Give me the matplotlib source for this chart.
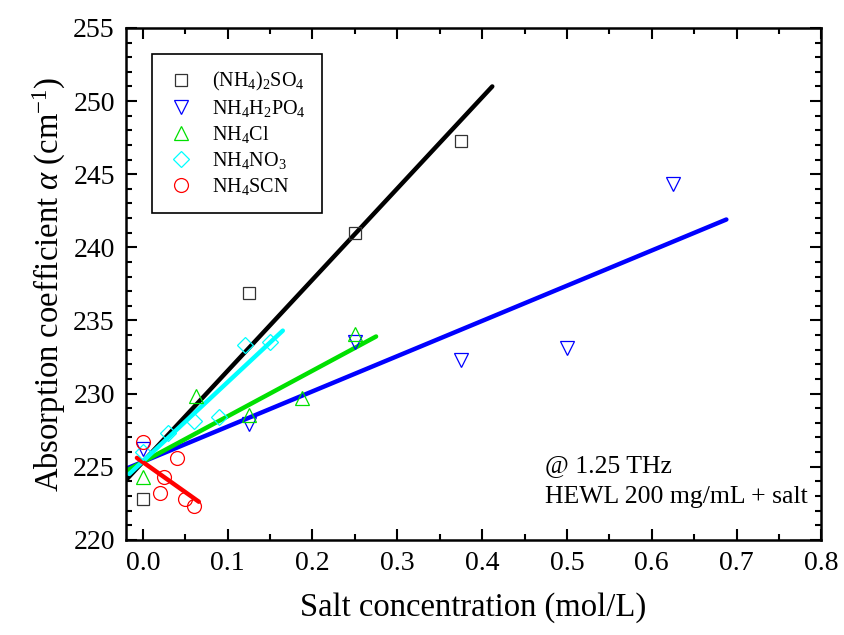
import numpy as np
import matplotlib
matplotlib.use('Agg')
import matplotlib.pyplot as plt
from matplotlib.ticker import MultipleLocator

plt.rcParams['font.family'] = ['Liberation Serif', 'DejaVu Serif']
plt.rcParams['mathtext.fontset'] = 'custom'
plt.rcParams['mathtext.rm'] = 'Liberation Serif'
plt.rcParams['mathtext.it'] = 'Liberation Serif:italic'

# datos
x_so4 = [0.0, 0.125, 0.25, 0.375]
y_so4 = [222.8, 236.9, 241.0, 247.3]
x_po4 = [0.0, 0.125, 0.25, 0.375, 0.5, 0.625]
y_po4 = [226.2, 227.9, 233.5, 232.3, 233.1, 244.3]
x_cl = [0.0, 0.0625, 0.125, 0.1875, 0.25]
y_cl = [224.3, 229.8, 228.5, 229.7, 234.1]
x_no3 = [0.0, 0.03, 0.06, 0.09, 0.12, 0.15]
y_no3 = [226.0, 227.3, 228.1, 228.4, 233.3, 233.5]
x_scn = [0.0, 0.02, 0.025, 0.04, 0.05, 0.06]
y_scn = [226.7, 223.2, 224.3, 225.6, 222.8, 222.3]

# rectas de ajuste (extremos)
fit_so4_x = [-0.018, 0.412]
fit_so4_y = [224.2, 251.0]
fit_po4_x = [-0.02, 0.688]
fit_po4_y = [224.85, 241.9]
fit_cl_x = [-0.02, 0.275]
fit_cl_y = [224.7, 233.9]
fit_no3_x = [-0.016, 0.165]
fit_no3_y = [224.5, 234.3]
fit_scn_x = [-0.007, 0.066]
fit_scn_y = [225.6, 222.6]

labels = [r'(NH$_4$)$_2$SO$_4$', r'NH$_4$H$_2$PO$_4$', r'NH$_4$Cl',
          r'NH$_4$NO$_3$', r'NH$_4$SCN']

fig = plt.figure(figsize=(8.45, 6.35), dpi=100)
ax = fig.add_axes([0.149, 0.150, 0.823, 0.806])

series = [
    (x_so4, y_so4, fit_so4_x, fit_so4_y, 's', '#333333', 'black', 8),
    (x_po4, y_po4, fit_po4_x, fit_po4_y, 'v', 'blue', 'blue', 10),
    (x_cl, y_cl, fit_cl_x, fit_cl_y, '^', '#00e000', '#00e000', 10),
    (x_no3, y_no3, fit_no3_x, fit_no3_y, 'D', 'cyan', 'cyan', 8),
    (x_scn, y_scn, fit_scn_x, fit_scn_y, 'o', 'red', 'red', 10),
]

for i, (xs, ys, fx, fy, m, mc, lc, ms) in enumerate(series):
    ax.plot(xs, ys, linestyle='none', marker=m, markersize=ms,
            markerfacecolor='none', markeredgecolor=mc, markeredgewidth=0.9,
            label=labels[i], zorder=3)

for i, (xs, ys, fx, fy, m, mc, lc, ms) in enumerate(series):
    ax.plot(fx, fy, color=lc, linewidth=3.2, solid_capstyle='round', zorder=2)

ax.set_xlim(-0.02, 0.8)
ax.set_ylim(220, 255)
ax.xaxis.set_major_locator(MultipleLocator(0.1))
ax.xaxis.set_minor_locator(MultipleLocator(0.05))
ax.yaxis.set_major_locator(MultipleLocator(5))
ax.yaxis.set_minor_locator(MultipleLocator(1))
ax.tick_params(which='both', direction='in', top=True, right=True, labelsize=20, width=1.5)
ax.tick_params(which='major', length=8, pad=8)
ax.tick_params(which='minor', length=4)
for s in ax.spines.values():
    s.set_linewidth(1.8)

ax.set_xlabel('Salt concentration (mol/L)', fontsize=23.5, labelpad=12)
ax.set_ylabel(r'Absorption coefficient $\alpha$ (cm$^{-1}$)', fontsize=23.5, labelpad=4)

leg = ax.legend(loc='upper left', bbox_to_anchor=(0.038, 0.949), fontsize=14.5,
                frameon=True, fancybox=False, framealpha=1, edgecolor='black',
                handlelength=1.2, handletextpad=0.95, borderpad=0.8,
                labelspacing=0.25, borderaxespad=0)
leg.get_frame().set_linewidth(1.2)

ax.text(0.602, 0.145, '@ 1.25 THz', transform=ax.transAxes, fontsize=18.5, va='center')
ax.text(0.602, 0.083, 'HEWL 200 mg/mL + salt', transform=ax.transAxes, fontsize=18.5, va='center')

fig.savefig('out.png', dpi=100)
